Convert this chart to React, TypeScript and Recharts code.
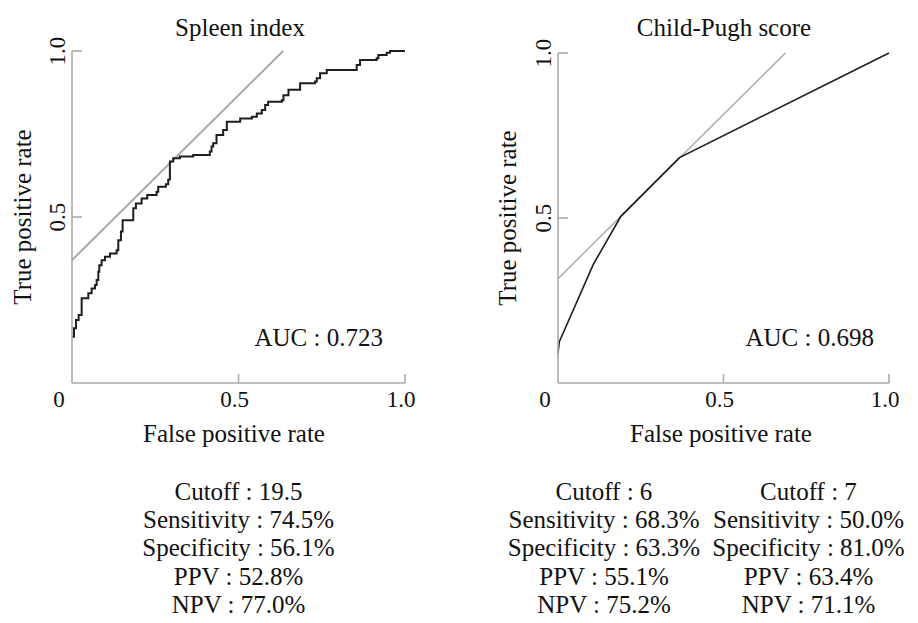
import * as React from "react";
import { Line, LineChart, XAxis, YAxis } from "recharts";

type Pt = { x: number; y: number };

const spleenRoc: Pt[] = [
  { x: 0, y: 0.139 }, { x: 0.006, y: 0.165 }, { x: 0.012, y: 0.19 }, { x: 0.02, y: 0.205 },
  { x: 0.029, y: 0.255 }, { x: 0.049, y: 0.27 }, { x: 0.059, y: 0.285 }, { x: 0.069, y: 0.295 },
  { x: 0.074, y: 0.31 }, { x: 0.079, y: 0.335 }, { x: 0.082, y: 0.355 }, { x: 0.089, y: 0.37 },
  { x: 0.099, y: 0.38 }, { x: 0.114, y: 0.39 }, { x: 0.134, y: 0.4 }, { x: 0.139, y: 0.43 },
  { x: 0.147, y: 0.456 }, { x: 0.152, y: 0.49 }, { x: 0.184, y: 0.526 }, { x: 0.192, y: 0.541 },
  { x: 0.209, y: 0.556 }, { x: 0.226, y: 0.566 }, { x: 0.254, y: 0.576 }, { x: 0.259, y: 0.591 },
  { x: 0.282, y: 0.599 }, { x: 0.289, y: 0.613 }, { x: 0.294, y: 0.667 }, { x: 0.304, y: 0.677 },
  { x: 0.324, y: 0.682 }, { x: 0.364, y: 0.687 }, { x: 0.414, y: 0.697 }, { x: 0.419, y: 0.712 },
  { x: 0.424, y: 0.722 }, { x: 0.434, y: 0.747 }, { x: 0.454, y: 0.762 }, { x: 0.465, y: 0.787 },
  { x: 0.505, y: 0.797 }, { x: 0.54, y: 0.802 }, { x: 0.555, y: 0.812 }, { x: 0.57, y: 0.822 },
  { x: 0.58, y: 0.837 }, { x: 0.589, y: 0.847 }, { x: 0.63, y: 0.852 }, { x: 0.635, y: 0.867 },
  { x: 0.65, y: 0.883 }, { x: 0.685, y: 0.903 }, { x: 0.73, y: 0.908 }, { x: 0.735, y: 0.918 },
  { x: 0.745, y: 0.933 }, { x: 0.765, y: 0.943 }, { x: 0.855, y: 0.958 }, { x: 0.865, y: 0.973 },
  { x: 0.915, y: 0.978 }, { x: 0.92, y: 0.988 }, { x: 0.945, y: 0.995 }, { x: 0.955, y: 1 },
  { x: 1, y: 1 },
];
const spleenTangent: Pt[] = [
  { x: 0, y: 0.37 },
  { x: 0.634, y: 1 },
];

const childPughRoc: Pt[] = [
  { x: 0, y: 0.09 },
  { x: 0.004, y: 0.125 },
  { x: 0.107, y: 0.36 },
  { x: 0.19, y: 0.505 },
  { x: 0.367, y: 0.683 },
  { x: 1, y: 1 },
];
const childPughTangent: Pt[] = [
  { x: 0, y: 0.316 },
  { x: 0.687, y: 1 },
];

const xTicks = [0, 0.5, 1];
const yTicks = [0.5, 1];

const spleenStats = ["Cutoff : 19.5", "Sensitivity : 74.5%", "Specificity : 56.1%", "PPV : 52.8%", "NPV : 77.0%"];
const cp6Stats = ["Cutoff : 6", "Sensitivity : 68.3%", "Specificity : 63.3%", "PPV : 55.1%", "NPV : 75.2%"];
const cp7Stats = ["Cutoff : 7", "Sensitivity : 50.0%", "Specificity : 81.0%", "PPV : 63.4%", "NPV : 71.1%"];

const FONT = "'Liberation Serif', 'Times New Roman', serif";
const AXIS = "#aaaaaa";
const W = 918;
const H = 623;
const AXIS_W = 40;
const AXIS_H = 40;

function XTick({ x, y, payload }: any) {
  const v = payload.value as number;
  return (
    <g>
      {v > 0 && <line x1={x} x2={x} y1={y} y2={y - 9} stroke={AXIS} strokeWidth={1.6} />}
      <text x={v === 0 ? x - 13 : x - 4} y={y + 23.5} textAnchor="middle" fontFamily={FONT} fontSize={23} fill="#111">
        {v === 0 ? "0" : v.toFixed(1)}
      </text>
    </g>
  );
}

function YTick({ x, y, payload }: any) {
  const v = payload.value as number;
  return (
    <g>
      <line x1={x} x2={x + 10} y1={y} y2={y} stroke={AXIS} strokeWidth={1.6} />
      <text
        x={x - 7}
        y={y}
        transform={`rotate(-90 ${x - 7} ${y})`}
        textAnchor="middle"
        fontFamily={FONT}
        fontSize={23}
        fill="#111"
      >
        {v.toFixed(1)}
      </text>
    </g>
  );
}

function RocPanel({
  roc,
  tangent,
  left,
  right,
  top,
  bottom,
  stepped,
  curveWidth,
  tangentWidth,
}: {
  roc: Pt[];
  tangent: Pt[];
  left: number;
  right: number;
  top: number;
  bottom: number;
  stepped: boolean;
  curveWidth: number;
  tangentWidth: number;
}) {
  return (
    <div style={{ position: "absolute", left: 0, top: 0 }}>
      <LineChart
        width={W}
        height={H}
        margin={{ top, left: left - AXIS_W, right: W - right, bottom: H - bottom - AXIS_H }}
      >
        <XAxis
          type="number"
          dataKey="x"
          domain={[0, 1]}
          ticks={xTicks}
          height={AXIS_H}
          tickLine={false}
          tickSize={0}
          tickMargin={0}
          tick={XTick}
          axisLine={{ stroke: AXIS, strokeWidth: 1.6 }}
        />
        <YAxis
          type="number"
          dataKey="y"
          domain={[0, 1]}
          ticks={yTicks}
          width={AXIS_W}
          tickLine={false}
          tickSize={0}
          tickMargin={0}
          tick={YTick}
          axisLine={{ stroke: AXIS, strokeWidth: 1.6 }}
        />
        <Line
          data={tangent}
          dataKey="y"
          type="linear"
          stroke="#a8a8a8"
          strokeWidth={tangentWidth}
          dot={false}
          isAnimationActive={false}
        />
        <Line
          data={roc}
          dataKey="y"
          type={stepped ? "stepAfter" : "linear"}
          stroke="#1e1e1e"
          strokeWidth={curveWidth}
          dot={false}
          isAnimationActive={false}
        />
      </LineChart>
    </div>
  );
}

function StatBlock({ cx, lines }: { cx: number; lines: string[] }) {
  return (
    <>
      {lines.map((t, i) => (
        <text key={t} x={cx} y={500 + i * 28.2} textAnchor="middle">
          {t}
        </text>
      ))}
    </>
  );
}

export default function App() {
  return (
    <div style={{ position: "absolute", left: 0, top: 0, width: W, height: H, background: "#fff" }}>
      <RocPanel roc={spleenRoc} tangent={spleenTangent} left={72} right={405} top={51} bottom={383} stepped curveWidth={2} tangentWidth={2} />
      <RocPanel roc={childPughRoc} tangent={childPughTangent} left={558} right={889} top={53} bottom={383} stepped={false} curveWidth={1.6} tangentWidth={1.4} />
      <svg width={W} height={H} style={{ position: "absolute", left: 0, top: 0, pointerEvents: "none" }} fontFamily={FONT} fontSize={25} fill="#111">
        <text x={240} y={36} textAnchor="middle">Spleen index</text>
        <text x={724} y={36} textAnchor="middle">Child-Pugh score</text>

        <text x={31} y={217} transform="rotate(-90 31 217)" textAnchor="middle">True positive rate</text>
        <text x={516} y={218} transform="rotate(-90 516 218)" textAnchor="middle">True positive rate</text>

        <text x={234} y={442} textAnchor="middle">False positive rate</text>
        <text x={721} y={442} textAnchor="middle">False positive rate</text>

        <text x={383} y={346} textAnchor="end">AUC : 0.723</text>
        <text x={874} y={346} textAnchor="end">AUC : 0.698</text>

        <StatBlock cx={238.5} lines={spleenStats} />
        <StatBlock cx={604} lines={cp6Stats} />
        <StatBlock cx={808.5} lines={cp7Stats} />
      </svg>
    </div>
  );
}
